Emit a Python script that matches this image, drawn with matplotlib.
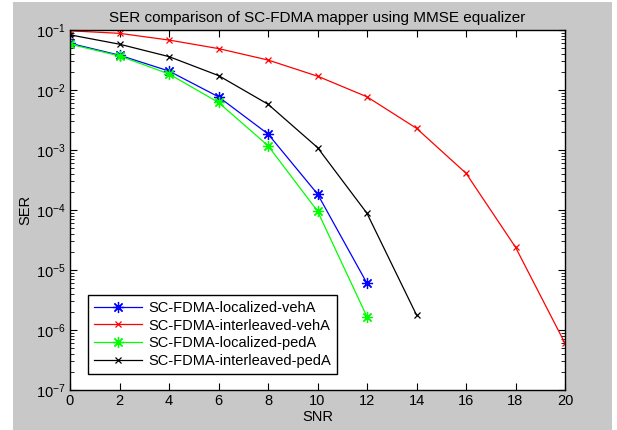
import numpy as np
import matplotlib
matplotlib.use("Agg")
import matplotlib.pyplot as plt
from matplotlib.patches import Rectangle
from matplotlib.ticker import LogLocator, NullFormatter

plt.rcParams['font.family'] = ['Liberation Sans', 'DejaVu Sans']
plt.rcParams['font.size'] = 10.5
plt.rcParams['mathtext.fontset'] = 'custom'
plt.rcParams['mathtext.rm'] = 'Liberation Sans'
plt.rcParams['mathtext.it'] = 'Liberation Sans:italic'
plt.rcParams['mathtext.default'] = 'regular'

# SNR points and SER values
snr = [0, 2, 4, 6, 8, 10, 12, 14, 16, 18, 20]
ser_loc_veh = [0.060, 0.038, 0.0207, 0.0077, 0.00185, 1.85e-4, 6.0e-6]
ser_int_veh = [0.097, 0.088, 0.068, 0.049, 0.0316, 0.017, 0.0077, 0.0023, 4.1e-4, 2.4e-5, 6.0e-7]
ser_loc_ped = [0.058, 0.037, 0.0185, 0.0062, 0.00118, 9.6e-5, 1.66e-6]
ser_int_ped = [0.083, 0.058, 0.036, 0.0174, 0.0058, 0.0011, 8.8e-5, 1.78e-6]

labels = ['SC-FDMA-localized-vehA', 'SC-FDMA-interleaved-vehA',
          'SC-FDMA-localized-pedA', 'SC-FDMA-interleaved-pedA']

fig = plt.figure(figsize=(6.17, 4.30), dpi=100, facecolor='white')
# grey MATLAB figure background (screenshot has a thin white edge on the left)
fig.patches.append(Rectangle((13 / 617, 0), 599 / 617, 428 / 430,
                             transform=fig.transFigure, facecolor='#c8c8c8',
                             edgecolor='none', zorder=-1))

ax = fig.add_axes([70 / 617, 1 - 390 / 430, 495 / 617, 360 / 430])
ax.set_facecolor('white')

star = (8, 2, 0)  # MATLAB-like asterisk
ax.semilogy(snr[:len(ser_loc_veh)], ser_loc_veh, color='#0000ff', marker=star,
            markersize=8, mew=0.9, lw=0.9, label=labels[0])
ax.semilogy(snr[:len(ser_int_veh)], ser_int_veh, color='#ff0000', marker='x',
            markersize=5, mew=0.9, lw=0.9, label=labels[1])
ax.semilogy(snr[:len(ser_loc_ped)], ser_loc_ped, color='#00ff00', marker=star,
            markersize=8, mew=0.9, lw=0.9, label=labels[2])
ax.semilogy(snr[:len(ser_int_ped)], ser_int_ped, color='#000000', marker='x',
            markersize=5, mew=0.9, lw=0.9, label=labels[3])

ax.set_xlim(0, 20)
ax.set_ylim(1e-7, 1e-1)
ax.set_xticks(snr)
ax.set_yticks([10.0 ** k for k in range(-7, 0)])
ax.yaxis.set_minor_locator(LogLocator(base=10, subs=np.arange(2, 10), numticks=20))
ax.yaxis.set_minor_formatter(NullFormatter())
ax.tick_params(which='both', direction='in', top=True, right=True, colors='black')
ax.tick_params(which='major', length=5, labelsize=10.5, pad=3)
ax.tick_params(which='minor', length=3)
for s in ax.spines.values():
    s.set_linewidth(1.0)

ax.set_title('SER comparison of SC-FDMA mapper using MMSE equalizer', fontsize=11, pad=6)
ax.set_xlabel('SNR', fontsize=10.5, labelpad=1)
ax.set_ylabel('SER', fontsize=10.5, labelpad=3)

leg = ax.legend(loc='lower left', bbox_to_anchor=(0.022, 0.025), fontsize=10.5,
                fancybox=False, framealpha=1, edgecolor='black', handlelength=3.3,
                borderpad=0.4, labelspacing=0.25, handletextpad=0.4)
leg.get_frame().set_linewidth(1.0)

fig.savefig('out.png', dpi=100, facecolor=fig.get_facecolor())
